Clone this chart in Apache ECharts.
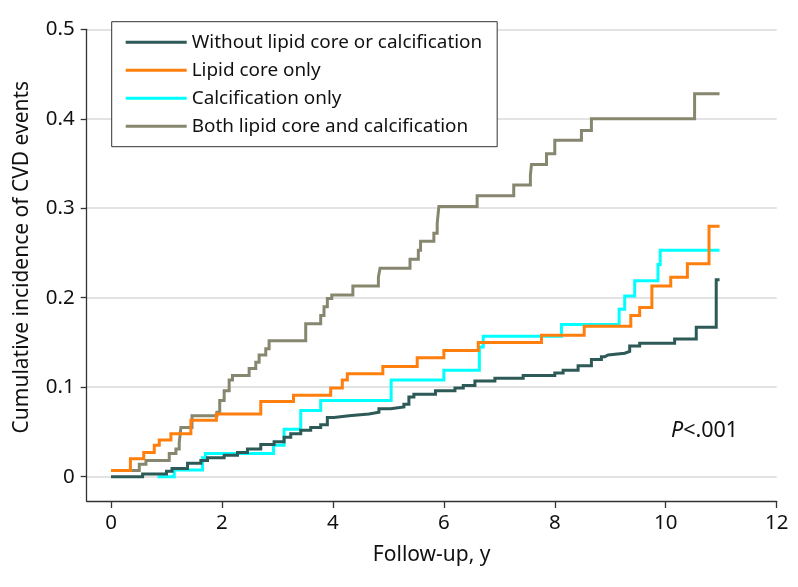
<!DOCTYPE html>
<html>
<head>
<meta charset="utf-8">
<script src="https://cdn.jsdelivr.net/npm/echarts@6/dist/echarts.min.js"></script>
<style>html,body{margin:0;padding:0;background:#fff}#c{width:798px;height:587px}</style>
</head>
<body>
<div id="c"></div>
<script>
// Series names (legend order)
const seriesNames = [
  'Without lipid core or calcification',
  'Lipid core only',
  'Calcification only',
  'Both lipid core and calcification'
];
// Step data: [follow-up years, cumulative incidence]
const withoutData = [[0,0],[0.57,0.003],[1.0,0.006],[1.1,0.009],[1.38,0.015],[1.62,0.018],[1.74,0.021],[2.04,0.024],[2.28,0.027],[2.46,0.031],[2.70,0.036],[2.94,0.039],[3.12,0.044],[3.24,0.048],[3.42,0.052],[3.6,0.055],[3.78,0.058],[3.9,0.066],[4.02,0.068],[4.29,0.070],[4.65,0.072],[4.83,0.076],[5.04,0.078],[5.28,0.081],[5.37,0.089],[5.46,0.092],[5.85,0.096],[6.2,0.099],[6.35,0.102],[6.56,0.107],[6.92,0.110],[7.43,0.113],[8.0,0.116],[8.15,0.119],[8.42,0.124],[8.66,0.131],[8.84,0.134],[8.9,0.136],[8.96,0.138],[9.26,0.140],[9.35,0.146],[9.53,0.149],[10.16,0.154],[10.55,0.167],[10.91,0.220],[10.97,0.220]];
const lipidData = [[0,0.007],[0.35,0.020],[0.59,0.027],[0.78,0.035],[0.87,0.041],[1.08,0.048],[1.44,0.063],[1.9,0.070],[2.7,0.084],[3.29,0.091],[3.96,0.099],[4.17,0.108],[4.26,0.115],[4.9,0.123],[5.52,0.133],[6.0,0.141],[6.62,0.150],[7.76,0.158],[8.53,0.168],[9.37,0.180],[9.53,0.189],[9.75,0.213],[10.09,0.223],[10.39,0.238],[10.78,0.280],[10.97,0.280]];
const calcData = [[0.84,0],[1.14,0.0075],[1.65,0.021],[1.7,0.026],[2.93,0.035],[3.12,0.053],[3.42,0.074],[3.78,0.085],[5.05,0.108],[6.0,0.119],[6.64,0.145],[6.71,0.157],[8.12,0.170],[9.16,0.187],[9.26,0.202],[9.44,0.219],[9.86,0.237],[9.9,0.253],[10.97,0.253]];
const bothData = [[0,0.007],[0.51,0.014],[0.63,0.018],[1.05,0.026],[1.17,0.031],[1.23,0.038],[1.26,0.055],[1.46,0.068],[1.91,0.072],[1.96,0.085],[2.04,0.096],[2.13,0.108],[2.19,0.113],[2.49,0.121],[2.61,0.128],[2.67,0.136],[2.79,0.143],[2.85,0.152],[3.51,0.171],[3.78,0.180],[3.84,0.190],[3.9,0.199],[3.98,0.203],[4.36,0.213],[4.82,0.223],[4.85,0.233],[5.39,0.243],[5.54,0.253],[5.58,0.263],[5.82,0.272],[5.88,0.283],[5.91,0.302],[6.6,0.314],[7.26,0.326],[7.56,0.337],[7.58,0.349],[7.85,0.361],[8.0,0.376],[8.48,0.387],[8.66,0.400],[10.52,0.428],[10.97,0.428]];
// Tick values
const xTicks = [0, 2, 4, 6, 8, 10, 12];
const yTicks = [0, 0.1, 0.2, 0.3, 0.4, 0.5];

const colors = ['#2d5957', '#ff7f0e', '#00ffff', '#87876f'];
const FONT = 'Noto Sans';
const chart = echarts.init(document.getElementById('c'), null, {renderer: 'canvas'});
const allData = [withoutData, lipidData, calcData, bothData];
const zs = [5, 4, 3, 2];

chart.setOption({
  animation: false,
  backgroundColor: '#fff',
  textStyle: {fontFamily: FONT},
  grid: {left: 86.7, right: 21.3, top: 29.3, bottom: 86, containLabel: false},
  legend: {
    data: seriesNames,
    orient: 'vertical',
    left: 111.7, top: 21.7,
    padding: [11, 15, 11, 14],
    borderColor: '#333', borderWidth: 1,
    backgroundColor: '#fff',
    itemWidth: 61, itemHeight: 3, itemGap: 9,
    icon: 'rect',
    textStyle: {fontFamily: FONT, fontSize: 18.9, color: '#111', lineHeight: 19},
    z: 10
  },
  xAxis: {
    type: 'value', min: -0.438, max: 12,
    name: 'Follow-up, y', nameLocation: 'middle', nameGap: 44,
    nameTextStyle: {fontFamily: FONT, fontSize: 21, color: '#111'},
    axisLine: {show: true, onZero: false, lineStyle: {color: '#333', width: 1.3}},
    axisTick: {show: true, length: 7, customValues: xTicks, lineStyle: {color: '#333', width: 1.3}},
    axisLabel: {customValues: xTicks, margin: 12, fontFamily: FONT, fontSize: 20.5, color: '#111'},
    splitLine: {show: false}
  },
  yAxis: {
    type: 'value', min: -0.0272, max: 0.5,
    name: 'Cumulative incidence of CVD events', nameLocation: 'middle', nameGap: 54,
    nameTextStyle: {fontFamily: FONT, fontSize: 21, color: '#111', padding: [0, 0, 0, 16]},
    axisLine: {show: true, onZero: false, lineStyle: {color: '#333', width: 1.3}},
    axisTick: {show: true, length: 6, customValues: yTicks, lineStyle: {color: '#333', width: 1.3}},
    axisLabel: {customValues: yTicks, margin: 12, fontFamily: FONT, fontSize: 20.5, color: '#111',
      formatter: v => (Math.round(v * 10) / 10).toString()},
    splitLine: {show: true, lineStyle: {color: '#dadada', width: 1.5}}
  },
  series: seriesNames.map((n, i) => ({
    name: n, type: 'line', step: 'end', data: allData[i],
    showSymbol: false, symbol: 'none', z: zs[i],
    lineStyle: {color: colors[i], width: 3, join: 'miter', cap: 'butt'},
    itemStyle: {color: colors[i]}
  })),
  graphic: [{
    type: 'text', left: 671, top: 420,
    style: {
      text: '{i|P}<.001',
      rich: {i: {fontStyle: 'italic', fontFamily: FONT, fontSize: 21.5, fill: '#111'}},
      fontFamily: FONT, fontSize: 21.5, fill: '#111'
    }
  }]
});
</script>
</body>
</html>
